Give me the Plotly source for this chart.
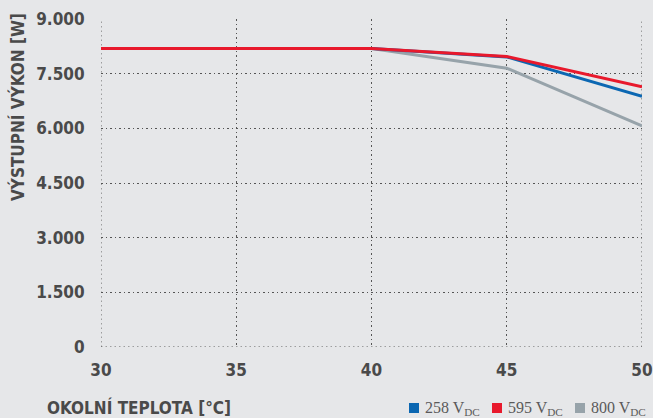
import plotly.graph_objects as go

temps = [30, 35, 40, 45, 50]
p258 = [8190, 8190, 8190, 7960, 6880]
p595 = [8190, 8190, 8190, 7970, 7140]
p800 = [8190, 8190, 8190, 7650, 6070]
series_names = ["258 V<sub>DC</sub>", "595 V<sub>DC</sub>", "800 V<sub>DC</sub>"]
colors = ["#0b67b2", "#e8192c", "#97a3aa"]
y_ticks = [0, 1500, 3000, 4500, 6000, 7500, 9000]
y_labels = ["0", "1.500", "3.000", "4.500", "6.000", "7.500", "9.000"]
x_ticks = [30, 35, 40, 45, 50]

W, H = 653, 418
ML, MR, MT, MB = 101, 11, 19, 71
PW, PH = W - ML - MR, H - MT - MB


def px(x):
    return (x - ML) / PW


def py(y):
    return (H - MB - y) / PH


bold_font = "DejaVu Sans Condensed, Liberation Sans Narrow, Arial Narrow, sans-serif"
serif_font = "Liberation Serif, Times New Roman, serif"
txt = "#4a4a4a"
grid_c = "#555555"
dash = "1.5px,3px"

fig = go.Figure()
order = [2, 0, 1]
data = [p258, p595, p800]
for i in order:
    fig.add_trace(go.Scatter(x=temps, y=data[i], mode="lines", name=series_names[i],
                             line=dict(color=colors[i], width=3),
                             showlegend=False, hoverinfo="skip", cliponaxis=False))

shapes = [
    dict(type="line", xref="x", yref="paper", x0=30, x1=30, y0=0, y1=1,
         line=dict(color=grid_c, width=1, dash=dash), layer="below"),
    dict(type="line", xref="x", yref="paper", x0=50, x1=50, y0=0, y1=1,
         line=dict(color=grid_c, width=1, dash=dash), layer="below"),
    dict(type="line", xref="paper", yref="y", x0=0, x1=1, y0=0, y1=0,
         line=dict(color=grid_c, width=1, dash=dash), layer="below"),
]

annotations = [
    dict(text="OKOLNÍ TEPLOTA [°C]", xref="paper", yref="paper",
         x=px(45), y=py(407), xanchor="left", yanchor="middle",
         showarrow=False, font=dict(family=bold_font, size=17, color=txt, weight="bold")),
    dict(text="VÝSTUPNÍ VÝKON [W]", xref="paper", yref="paper", textangle=-90,
         x=px(17), y=py(107), xanchor="center", yanchor="middle",
         showarrow=False, font=dict(family=bold_font, size=17, color=txt, weight="bold")),
]

# legend: colored squares + labels
leg_x = [409, 492, 575]
for i in range(3):
    shapes.append(dict(type="rect", xref="paper", yref="paper",
                       x0=px(leg_x[i]), x1=px(leg_x[i] + 10), y0=py(413), y1=py(403),
                       fillcolor=colors[i], line=dict(width=0)))
    annotations.append(dict(text=series_names[i], xref="paper", yref="paper",
                            x=px(leg_x[i] + 14), y=py(408), xanchor="left", yanchor="middle",
                            showarrow=False,
                            font=dict(family=serif_font, size=16, color="#5a5a5a")))

fig.update_layout(
    width=W, height=H,
    paper_bgcolor="#e6e7e9", plot_bgcolor="#e6e7e9",
    margin=dict(l=ML, r=MR, t=MT, b=MB, autoexpand=False),
    showlegend=False,
    xaxis=dict(range=[30, 50], tickvals=x_ticks, showgrid=True, griddash=dash,
               gridcolor=grid_c, gridwidth=1, zeroline=False, showline=False, automargin=False,
               tickfont=dict(family=bold_font, size=17, color=txt, weight="bold"), ticks="outside",
               ticklen=8, tickcolor="rgba(0,0,0,0)", fixedrange=True),
    yaxis=dict(range=[0, 9000], tickvals=y_ticks, ticktext=y_labels, showgrid=True,
               griddash=dash, gridcolor=grid_c, gridwidth=1, zeroline=False, showline=False,
               automargin=False,
               tickfont=dict(family=bold_font, size=17, color=txt, weight="bold"), ticks="outside",
               ticklen=12, tickcolor="rgba(0,0,0,0)", fixedrange=True),
    shapes=shapes,
    annotations=annotations,
)

fig.write_html("out.html", config={"displayModeBar": False},
               post_script="document.body.style.margin='0';document.body.style.background='#e6e7e9';")
